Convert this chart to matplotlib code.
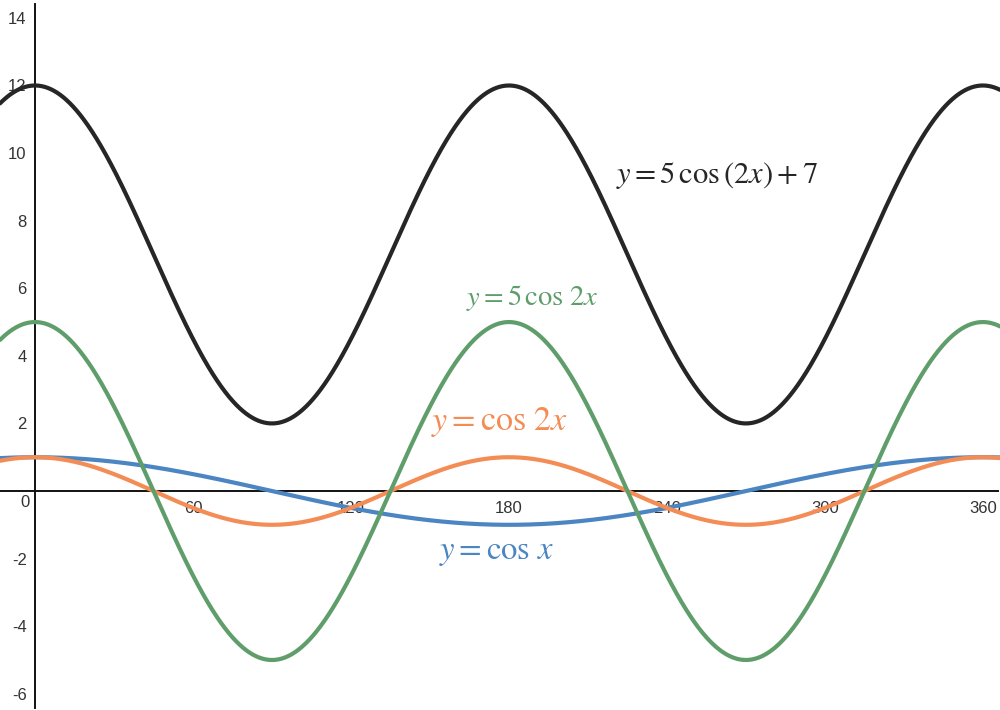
import numpy as np
import matplotlib
matplotlib.use("Agg")
import matplotlib.pyplot as plt

# curve parameters: y = amp * cos(freq * x) + shift  (x in degrees)
names = ["cos x", "cos 2x", "5 cos 2x", "5 cos(2x) + 7"]
amps = [1, 1, 5, 5]
freqs = [1, 2, 2, 2]
shifts = [0, 0, 0, 7]
colors = ["#4b85c2", "#f48c55", "#5f9e6b", "#262626"]

# labels placed next to curves (data coords, left/center anchored)
labels = [r"$y = \cos\,x$", r"$y = \cos\,2x$", r"$y = 5\,\cos\,2x$",
          r"$y = 5\,\cos\left(2x\right) + 7$"]
label_x = [153.5, 150.5, 163.5, 220.5]
label_y = [-1.78, 2.04, 5.72, 9.35]
label_size = [23.5, 24.5, 20.5, 22]

xticks = [60, 120, 180, 240, 300, 360]
yticks = [-6, -4, -2, 2, 4, 6, 8, 10, 12, 14]

plt.rcParams["mathtext.fontset"] = "stix"
plt.rcParams["axes.unicode_minus"] = False

fig = plt.figure(figsize=(10, 7.1), dpi=100)
ax = fig.add_axes([0, 0, 1, 1])
x0, x1 = -13.3, 366.5
y0, y1 = -6.48, 14.53
ax.set_xlim(x0, x1)
ax.set_ylim(y0, y1)

xs = np.linspace(x0, x1, 2000)
for a, f, s, c in zip(amps, freqs, shifts, colors):
    ax.plot(xs, a * np.cos(np.radians(f * xs)) + s, color=c, lw=3.0,
            solid_capstyle="round", zorder=3)

for t, lx, ly, fs, c in zip(labels, label_x, label_y, label_size, colors):
    ax.text(lx, ly, t, color=c, fontsize=fs, ha="left", va="center", zorder=4)

# axes through the origin
for side in ["top", "right"]:
    ax.spines[side].set_visible(False)
ax.spines["left"].set_position(("data", 0))
ax.spines["bottom"].set_position(("data", 0))
ax.spines["left"].set_bounds(-6.42, 14.41)
ax.spines["bottom"].set_bounds(x0, 365.7)
for side in ["left", "bottom"]:
    ax.spines[side].set_linewidth(1.4)
    ax.spines[side].set_color("#111111")
    ax.spines[side].set_zorder(2)

ax.set_xticks(xticks)
ax.set_yticks(yticks)
ax.tick_params(length=0, labelsize=12, labelcolor="#333333")
ax.tick_params(axis="x", pad=7)
ax.tick_params(axis="y", pad=6)
for lab in ax.get_xticklabels() + ax.get_yticklabels():
    lab.set_fontfamily("Liberation Sans")
ax.text(-3.8, -0.35, "0", fontsize=12, color="#333333", ha="center", va="center",
        family="Liberation Sans")

fig.savefig("out.png", dpi=100)
